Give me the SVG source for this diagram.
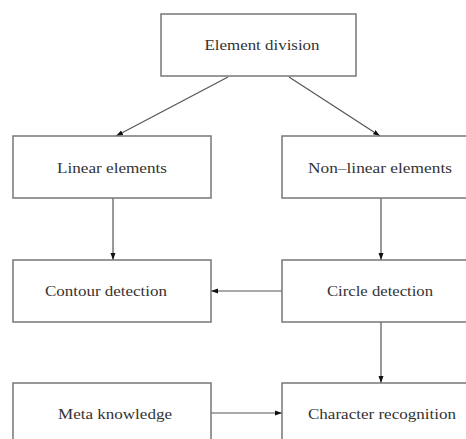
<svg xmlns="http://www.w3.org/2000/svg" width="466" height="439" viewBox="0 0 466 439">
<style>
.box{fill:#fff;stroke:#777;stroke-width:1.5}
.lbl{font-family:"Liberation Serif","DejaVu Serif",serif;font-size:15px;fill:#333;text-anchor:middle}
.con{stroke:#555;stroke-width:1.2;fill:none;marker-end:url(#ah)}
</style>
<defs>
<marker id="ah" markerWidth="8" markerHeight="6" refX="7" refY="3" orient="auto" markerUnits="userSpaceOnUse">
<path d="M0,0.5 L7,3 L0,5.5 Z" fill="#111"/>
</marker>
</defs>
<rect width="466" height="439" fill="#fff"/>
<g id="connectors">
<line class="con" x1="228" y1="77" x2="116" y2="136"/>
<line class="con" x1="289" y1="77" x2="380" y2="136"/>
<line class="con" x1="113" y1="198" x2="113" y2="260"/>
<line class="con" x1="381" y1="198" x2="381" y2="260"/>
<line class="con" x1="282" y1="291" x2="211" y2="291"/>
<line class="con" x1="381" y1="322" x2="381" y2="383"/>
<line class="con" x1="211" y1="413" x2="282" y2="413"/>
</g>
<g id="element-division">
<rect class="box" x="161" y="14" width="195" height="62"/>
<text class="lbl" x="262" y="50" textLength="115" lengthAdjust="spacingAndGlyphs">Element division</text>
</g>
<g id="linear-elements">
<rect class="box" x="13" y="136" width="198" height="62"/>
<text class="lbl" x="112" y="173" textLength="110" lengthAdjust="spacingAndGlyphs">Linear elements</text>
</g>
<g id="non-linear-elements">
<rect class="box" x="282" y="136" width="198" height="62"/>
<text class="lbl" x="380" y="173" textLength="144" lengthAdjust="spacingAndGlyphs">Non–linear elements</text>
</g>
<g id="contour-detection">
<rect class="box" x="13" y="260" width="198" height="62"/>
<text class="lbl" x="106" y="296" textLength="122" lengthAdjust="spacingAndGlyphs">Contour detection</text>
</g>
<g id="circle-detection">
<rect class="box" x="282" y="260" width="198" height="62"/>
<text class="lbl" x="380" y="296" textLength="106" lengthAdjust="spacingAndGlyphs">Circle detection</text>
</g>
<g id="meta-knowledge">
<rect class="box" x="13" y="383" width="198" height="62"/>
<text class="lbl" x="115" y="419" textLength="114" lengthAdjust="spacingAndGlyphs">Meta knowledge</text>
</g>
<g id="character-recognition">
<rect class="box" x="282" y="383" width="198" height="62"/>
<text class="lbl" x="382" y="419" textLength="148" lengthAdjust="spacingAndGlyphs">Character recognition</text>
</g>
</svg>
